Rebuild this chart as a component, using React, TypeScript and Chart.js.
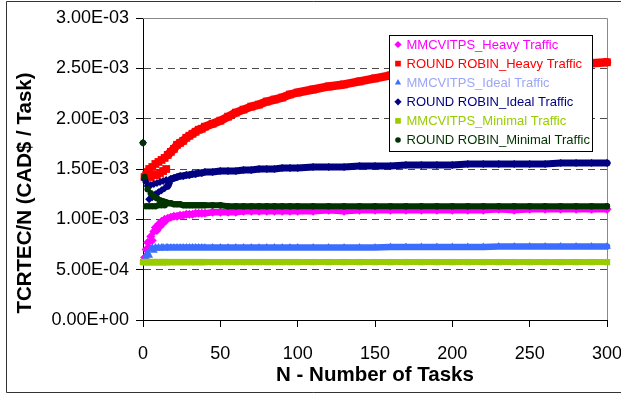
import React, { useEffect, useRef } from 'react';
import { Chart, registerables } from 'chart.js';

Chart.register(...registerables);

const N_TASKS = [0, 1, 2, 3, 4, 5, 6, 7, 8, 9, 10, 11, 12, 13, 14, 15, 16, 18, 20, 22, 24, 26, 28, 30, 32, 34, 36, 38, 40, 45, 50, 55, 60, 65, 70, 75, 80, 85, 90, 95, 100, 110, 120, 130, 140, 150, 160, 170, 180, 190, 200, 210, 220, 230, 240, 250, 260, 270, 280, 290, 300];

const SERIES_NAMES = [
  'MMCVITPS_Heavy Traffic',
  'ROUND ROBIN_Heavy Traffic',
  'MMCVITPS_Ideal Traffic',
  'ROUND ROBIN_Ideal Traffic',
  'MMCVITPS_Minimal Traffic',
  'ROUND ROBIN_Minimal Traffic',
];

const MMCVITPS_HEAVY = [null, 0.62e-3, 0.70e-3, 0.77e-3, 0.72e-3, 0.83e-3, 0.79e-3, 0.88e-3, 0.92e-3, 0.89e-3, 0.95e-3, 0.93e-3, 0.98e-3, 0.96e-3, 1.00e-3, 0.99e-3, 1.01e-3,
  1.02e-3, 1.03e-3, 1.03e-3, 1.04e-3, 1.04e-3, 1.05e-3, 1.05e-3, 1.05e-3, 1.06e-3, 1.06e-3, 1.06e-3, 1.06e-3,
  1.07e-3, 1.07e-3, 1.07e-3, 1.07e-3, 1.08e-3, 1.08e-3, 1.08e-3, 1.08e-3, 1.08e-3, 1.08e-3, 1.08e-3, 1.08e-3,
  1.08e-3, 1.09e-3, 1.08e-3, 1.09e-3, 1.09e-3, 1.09e-3, 1.09e-3, 1.09e-3, 1.09e-3, 1.09e-3, 1.09e-3, 1.09e-3, 1.10e-3, 1.09e-3, 1.10e-3, 1.10e-3, 1.10e-3, 1.10e-3, 1.10e-3, 1.10e-3];

const ROUND_ROBIN_HEAVY = [null, 1.42e-3, 1.44e-3, 1.47e-3, 1.50e-3, 1.42e-3, 1.52e-3, 1.44e-3, 1.55e-3, 1.44e-3, 1.57e-3, 1.46e-3, 1.59e-3, 1.48e-3, 1.61e-3, 1.50e-3, 1.64e-3,
  1.67e-3, 1.70e-3, 1.74e-3, 1.76e-3, 1.78e-3, 1.81e-3, 1.83e-3, 1.85e-3, 1.87e-3, 1.89e-3, 1.90e-3, 1.92e-3,
  1.95e-3, 1.98e-3, 2.02e-3, 2.06e-3, 2.09e-3, 2.12e-3, 2.14e-3, 2.17e-3, 2.19e-3, 2.21e-3, 2.24e-3, 2.26e-3,
  2.29e-3, 2.32e-3, 2.34e-3, 2.37e-3, 2.40e-3, 2.43e-3, 2.45e-3, 2.47e-3, 2.48e-3, 2.50e-3, 2.51e-3, 2.52e-3, 2.53e-3, 2.53e-3, 2.54e-3, 2.54e-3, 2.55e-3, 2.55e-3, 2.55e-3, 2.56e-3];

const MMCVITPS_IDEAL = [null, 0.59e-3, 0.63e-3, 0.67e-3, 0.64e-3, 0.70e-3, 0.72e-3, 0.69e-3, 0.72e-3, 0.71e-3, 0.72e-3, 0.71e-3, 0.72e-3, 0.72e-3, 0.71e-3, 0.72e-3, 0.72e-3,
  0.72e-3, 0.72e-3, 0.72e-3, 0.72e-3, 0.72e-3, 0.72e-3, 0.72e-3, 0.72e-3, 0.72e-3, 0.72e-3, 0.72e-3, 0.72e-3,
  0.72e-3, 0.72e-3, 0.72e-3, 0.72e-3, 0.72e-3, 0.72e-3, 0.72e-3, 0.72e-3, 0.72e-3, 0.72e-3, 0.72e-3, 0.72e-3,
  0.72e-3, 0.72e-3, 0.72e-3, 0.72e-3, 0.72e-3, 0.725e-3, 0.725e-3, 0.725e-3, 0.725e-3, 0.725e-3, 0.725e-3, 0.725e-3, 0.73e-3, 0.73e-3, 0.73e-3, 0.73e-3, 0.73e-3, 0.73e-3, 0.73e-3, 0.73e-3];

const ROUND_ROBIN_IDEAL = [1.76e-3, 1.40e-3, 1.37e-3, 1.33e-3, 1.20e-3, 1.34e-3, 1.22e-3, 1.35e-3, 1.25e-3, 1.36e-3, 1.27e-3, 1.37e-3, 1.29e-3, 1.38e-3, 1.31e-3, 1.39e-3, 1.33e-3,
  1.40e-3, 1.41e-3, 1.42e-3, 1.43e-3, 1.43e-3, 1.44e-3, 1.44e-3, 1.45e-3, 1.45e-3, 1.46e-3, 1.46e-3, 1.47e-3,
  1.47e-3, 1.48e-3, 1.48e-3, 1.48e-3, 1.49e-3, 1.49e-3, 1.50e-3, 1.50e-3, 1.50e-3, 1.51e-3, 1.51e-3, 1.51e-3,
  1.52e-3, 1.52e-3, 1.52e-3, 1.53e-3, 1.53e-3, 1.53e-3, 1.54e-3, 1.54e-3, 1.54e-3, 1.54e-3, 1.55e-3, 1.55e-3, 1.55e-3, 1.55e-3, 1.55e-3, 1.55e-3, 1.56e-3, 1.56e-3, 1.56e-3, 1.56e-3];

const MMCVITPS_MINIMAL = [0.575e-3, 0.575e-3, 0.575e-3, 0.575e-3, 0.575e-3, 0.575e-3, 0.575e-3, 0.575e-3, 0.575e-3, 0.575e-3, 0.575e-3, 0.575e-3, 0.575e-3, 0.575e-3, 0.575e-3, 0.575e-3, 0.575e-3,
  0.575e-3, 0.575e-3, 0.575e-3, 0.575e-3, 0.575e-3, 0.575e-3, 0.575e-3, 0.575e-3, 0.575e-3, 0.575e-3, 0.575e-3, 0.575e-3,
  0.575e-3, 0.575e-3, 0.575e-3, 0.575e-3, 0.575e-3, 0.575e-3, 0.575e-3, 0.575e-3, 0.575e-3, 0.575e-3, 0.575e-3, 0.575e-3,
  0.575e-3, 0.575e-3, 0.575e-3, 0.575e-3, 0.575e-3, 0.575e-3, 0.575e-3, 0.575e-3, 0.575e-3, 0.575e-3, 0.575e-3, 0.575e-3, 0.575e-3, 0.575e-3, 0.575e-3, 0.575e-3, 0.575e-3, 0.575e-3, 0.575e-3, 0.575e-3];

const ROUND_ROBIN_MINIMAL = [1.76e-3, 1.42e-3, 1.13e-3, 1.30e-3, 1.13e-3, 1.26e-3, 1.13e-3, 1.23e-3, 1.13e-3, 1.21e-3, 1.14e-3, 1.19e-3, 1.14e-3, 1.18e-3, 1.14e-3, 1.17e-3, 1.16e-3,
  1.16e-3, 1.15e-3, 1.15e-3, 1.15e-3, 1.14e-3, 1.14e-3, 1.14e-3, 1.14e-3, 1.14e-3, 1.14e-3, 1.14e-3, 1.14e-3,
  1.14e-3, 1.14e-3, 1.13e-3, 1.13e-3, 1.13e-3, 1.13e-3, 1.13e-3, 1.13e-3, 1.13e-3, 1.13e-3, 1.13e-3, 1.13e-3,
  1.13e-3, 1.13e-3, 1.13e-3, 1.13e-3, 1.13e-3, 1.13e-3, 1.13e-3, 1.13e-3, 1.13e-3, 1.13e-3, 1.13e-3, 1.13e-3, 1.13e-3, 1.13e-3, 1.13e-3, 1.13e-3, 1.13e-3, 1.13e-3, 1.13e-3, 1.13e-3];

const SERIES_VALUES = [MMCVITPS_HEAVY, ROUND_ROBIN_HEAVY, MMCVITPS_IDEAL, ROUND_ROBIN_IDEAL, MMCVITPS_MINIMAL, ROUND_ROBIN_MINIMAL];

const X_TITLE = 'N - Number of Tasks';
const Y_TITLE = 'TCRTEC/N (CAD$ / Task)';
const X_MIN = 0, X_MAX = 300, X_STEP = 50;
const Y_MIN = 0, Y_MAX = 0.003, Y_STEP = 0.0005;

const STYLES = [
  { color: '#FF00FF', text: '#FF00FF', point: 'rectRot', radius: 4.5, band: 6.5 },
  { color: '#FF0000', text: '#FF0000', point: 'rect', radius: 5.5, band: 8.5 },
  { color: '#3B6EFF', text: '#9CA6F5', point: 'triangle', radius: 4.5, band: 6.5 },
  { color: '#000080', text: '#000080', point: 'rectRot', radius: 4, band: 7 },
  { color: '#99CC00', text: '#99CC00', point: 'rect', radius: 4.5, band: 6 },
  { color: '#003300', text: '#003300', point: 'circle', radius: 3.2, band: 6 },
];

const FONT = 'Arial, "Liberation Sans", sans-serif';

function fmtSci(v: number): string {
  if (Math.abs(v) < 1e-12) return '0.00E+00';
  const [m, e] = v.toExponential(2).split('e');
  const exp = parseInt(e, 10);
  const sign = exp < 0 ? '-' : '+';
  return `${m}E${sign}${String(Math.abs(exp)).padStart(2, '0')}`;
}

function drawMarker(ctx: CanvasRenderingContext2D, style: string, x: number, y: number, r: number) {
  ctx.beginPath();
  if (style === 'rect') {
    const s = r * Math.SQRT1_2;
    ctx.rect(x - s, y - s, 2 * s, 2 * s);
  } else if (style === 'rectRot') {
    ctx.moveTo(x - r, y); ctx.lineTo(x, y - r); ctx.lineTo(x + r, y); ctx.lineTo(x, y + r); ctx.closePath();
  } else if (style === 'triangle') {
    ctx.moveTo(x, y - r);
    ctx.lineTo(x + r * Math.sin(2 * Math.PI / 3), y - r * Math.cos(2 * Math.PI / 3));
    ctx.lineTo(x + r * Math.sin(4 * Math.PI / 3), y - r * Math.cos(4 * Math.PI / 3));
    ctx.closePath();
  } else {
    ctx.arc(x, y, r, 0, Math.PI * 2);
  }
  ctx.fill();
}

const decorPlugin = {
  id: 'decor',
  beforeDatasetsDraw(chart: any) {
    const { ctx, chartArea: a } = chart;
    ctx.save();
    ctx.strokeStyle = '#8a8a8a';
    ctx.lineWidth = 1;
    ctx.beginPath();
    const t = Math.round(a.top) + 0.5;
    const r = Math.round(a.right) + 0.5;
    ctx.moveTo(a.left, t);
    ctx.lineTo(r, t);
    ctx.lineTo(r, a.bottom);
    ctx.stroke();
    ctx.restore();
  },
  afterDraw(chart: any) {
    const { ctx, chartArea: a, width, height } = chart;
    ctx.save();
    // legend box
    const lx = Math.round(a.right) - 218 + 0.5;
    const ly = Math.round(a.top) + 17 + 0.5;
    const lw = 203, lh = 116;
    ctx.fillStyle = '#ffffff';
    ctx.fillRect(lx, ly, lw, lh);
    ctx.strokeStyle = '#000';
    ctx.lineWidth = 1;
    ctx.strokeRect(lx, ly, lw, lh);
    ctx.font = `13px ${FONT}`;
    ctx.textBaseline = 'middle';
    ctx.textAlign = 'left';
    SERIES_NAMES.forEach((name, i) => {
      const st = STYLES[i];
      const cy = ly + 9 + i * 19.1;
      ctx.fillStyle = st.color;
      drawMarker(ctx, st.point, lx + 8.5, cy, st.point === 'circle' ? 2.8 : st.point === 'rect' ? 4 : 3.6);
      ctx.fillStyle = st.text;
      ctx.fillText(name, lx + 17, cy + 0.5);
    });
    // y axis title
    ctx.fillStyle = '#000';
    ctx.font = `bold 20.5px ${FONT}`;
    ctx.textAlign = 'center';
    ctx.translate(25, 193);
    ctx.rotate(-Math.PI / 2);
    ctx.fillText(Y_TITLE, 0, 0);
    ctx.restore();
    // outer frame
    ctx.save();
    ctx.strokeStyle = '#333';
    ctx.lineWidth = 1;
    ctx.beginPath();
    ctx.moveTo(width, 1.5);
    ctx.lineTo(6.5, 1.5);
    ctx.lineTo(6.5, height - 2.5);
    ctx.lineTo(width, height - 2.5);
    ctx.stroke();
    ctx.restore();
  },
};

export default function App() {
  const ref = useRef<HTMLCanvasElement | null>(null);
  useEffect(() => {
    if (!ref.current) return;
    Chart.defaults.font.family = FONT;
    Chart.defaults.color = '#000';
    const datasets = SERIES_NAMES.map((name, i) => {
      const st = STYLES[i];
      return {
        label: name,
        data: N_TASKS.map((x, j) => ({ x, y: SERIES_VALUES[i][j] })),
        showLine: true,
        borderColor: st.color,
        backgroundColor: st.color,
        borderWidth: st.band,
        borderCapStyle: 'round',
        borderJoinStyle: 'round',
        pointStyle: st.point,
        pointRadius: st.radius,
        pointHoverRadius: st.radius,
        pointBackgroundColor: st.color,
        pointBorderColor: st.color,
        pointBorderWidth: 0,
        segment: {
          borderColor: (c: any) => (c.p0.parsed.x < 16 ? 'rgba(0,0,0,0)' : st.color),
        },
        order: SERIES_NAMES.length - 1 - i,
        clip: false,
      };
    });
    const chart = new Chart(ref.current, {
      type: 'scatter',
      data: { datasets } as any,
      options: {
        responsive: false,
        animation: false,
        devicePixelRatio: 1,
        layout: { padding: { left: 0, right: 14, top: 18, bottom: 0 } },
        plugins: { legend: { display: false }, tooltip: { enabled: false }, title: { display: false } },
        scales: {
          x: {
            type: 'linear',
            min: X_MIN,
            max: X_MAX,
            ticks: { stepSize: X_STEP, font: { size: 18 }, color: '#000', padding: 16, maxRotation: 0, autoSkip: false },
            grid: { drawOnChartArea: false, drawTicks: true, tickLength: 7, tickColor: '#000' },
            border: { display: true, color: '#000', width: 1 },
            title: { display: true, text: X_TITLE, font: { size: 20.5, weight: 'bold' }, color: '#000', padding: { top: 0, bottom: 7 } },
            afterFit(s: any) { s.height = 75; s.paddingLeft = 0; s.paddingRight = 0; },
          },
          y: {
            type: 'linear',
            min: Y_MIN,
            max: Y_MAX,
            ticks: { stepSize: Y_STEP, font: { size: 18 }, color: '#000', padding: 7, callback: (v: any) => fmtSci(Number(v)) },
            grid: {
              color: (c: any) => (c.tick && (Math.abs(c.tick.value) < 1e-12 || Math.abs(c.tick.value - Y_MAX) < 1e-12) ? 'rgba(0,0,0,0)' : '#4a4a4a'),
              tickColor: '#000',
              tickLength: 7,
              lineWidth: 1,
            },
            border: { display: true, color: '#000', width: 1, dash: [7, 5] },
            afterFit(s: any) { s.width = 143; s.paddingTop = 0; s.paddingBottom = 0; },
          },
        },
      } as any,
      plugins: [decorPlugin],
    });
    return () => chart.destroy();
  }, []);
  return (
    <div style={{ position: 'fixed', left: 0, top: 0, width: 621, height: 395, background: '#fff' }}>
      <canvas ref={ref} width={621} height={395} style={{ width: 621, height: 395, display: 'block' }} />
    </div>
  );
}
